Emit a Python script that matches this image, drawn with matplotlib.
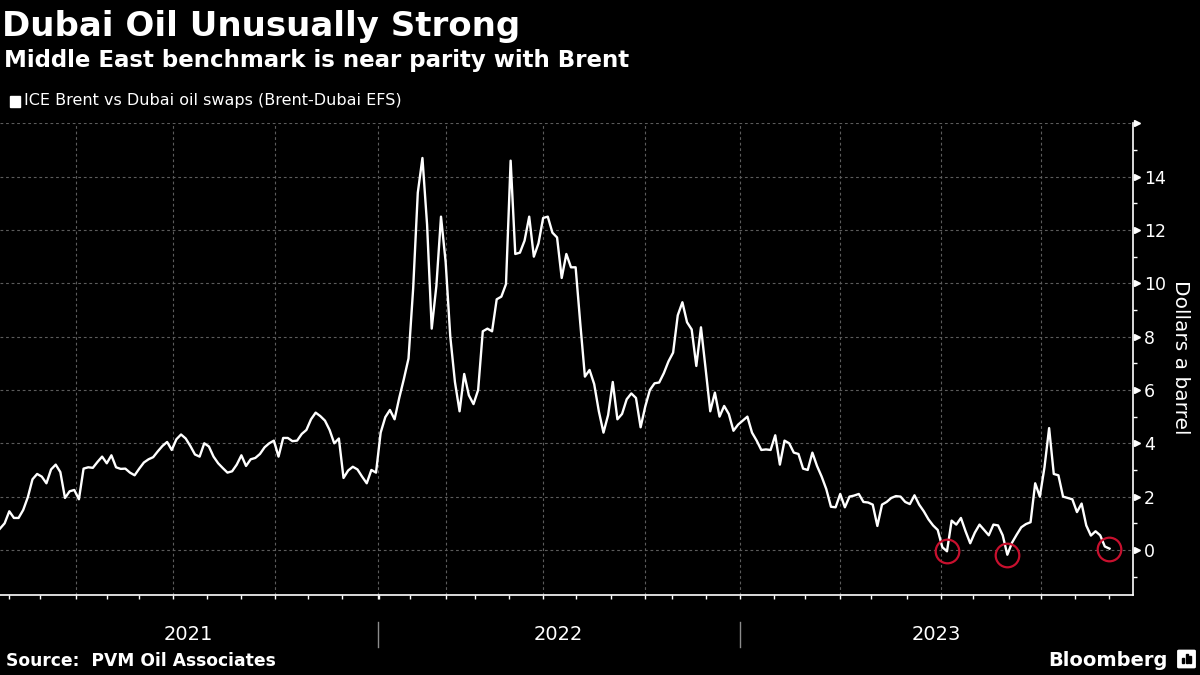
import numpy as np
import pandas as pd
import matplotlib

matplotlib.use("Agg")
import matplotlib.pyplot as plt
from matplotlib import transforms
from matplotlib.patches import Rectangle, FancyBboxPatch

TITLE = "Dubai Oil Unusually Strong"
SUBTITLE = "Middle East benchmark is near parity with Brent"
SERIES_NAME = "ICE Brent vs Dubai oil swaps (Brent-Dubai EFS)"
SOURCE = "Source:  PVM Oil Associates"
Y_LABEL = "Dollars a barrel"

# trading sessions on the axis, with the stretches that have no quotes
FIRST_DAY = "2021-01-22"
LAST_DAY = "2023-12-22"
MISSING = [
    ("2021-04-02", "2021-04-05"),
    ("2022-01-03", "2022-01-28"),
    ("2022-04-15", "2022-04-18"),
    ("2022-10-10", "2022-10-13"),
]
EVERY = 3  # one reading every third session

# Brent-Dubai EFS, $/bbl
efs = [
    0.8, 1.0, 1.45, 1.2, 1.2, 1.5, 1.98, 2.65, 2.85, 2.75,
    2.5, 3.02, 3.2, 2.92, 1.95, 2.2, 2.25, 1.9, 3.05, 3.1,
    3.08, 3.3, 3.5, 3.25, 3.55, 3.1, 3.04, 3.05, 2.9, 2.8,
    3.05, 3.28, 3.4, 3.48, 3.7, 3.9, 4.05, 3.75, 4.15, 4.33,
    4.18, 3.9, 3.58, 3.5, 4.0, 3.88, 3.5, 3.25, 3.07, 2.9,
    2.95, 3.2, 3.55, 3.15, 3.4, 3.45, 3.6, 3.85, 4.0, 4.1,
    3.5, 4.2, 4.2, 4.08, 4.1, 4.35, 4.5, 4.9, 5.15, 5.02,
    4.85, 4.5, 4.0, 4.18, 2.7, 2.98, 3.12, 3.02, 2.75, 2.5,
    3.0, 2.9, 4.4, 4.98, 5.25, 4.9, 5.7, 6.41, 7.18, 9.8,
    13.4, 14.7, 12.2, 8.3, 9.9, 12.5, 10.8, 8.0, 6.3, 5.2,
    6.6, 5.8, 5.47, 6.0, 8.2, 8.3, 8.2, 9.4, 9.5, 9.97,
    14.6, 11.1, 11.15, 11.6, 12.5, 11.0, 11.5, 12.45, 12.5, 11.9,
    11.72, 10.2, 11.1, 10.6, 10.6, 8.5, 6.5, 6.75, 6.22, 5.2,
    4.4, 5.06, 6.3, 4.9, 5.1, 5.65, 5.87, 5.7, 4.6, 5.38,
    6.0, 6.25, 6.28, 6.63, 7.07, 7.4, 8.8, 9.29, 8.54, 8.27,
    6.9, 8.35, 6.8, 5.2, 5.9, 5.0, 5.4, 5.1, 4.47, 4.7,
    4.85, 5.0, 4.4, 4.1, 3.75, 3.77, 3.75, 4.3, 3.2, 4.1,
    4.0, 3.65, 3.6, 3.05, 3.0, 3.65, 3.15, 2.75, 2.28, 1.62,
    1.6, 2.1, 1.6, 2.0, 2.04, 2.1, 1.8, 1.78, 1.7, 0.9,
    1.7, 1.8, 1.95, 2.02, 2.0, 1.8, 1.72, 2.05, 1.7, 1.45,
    1.15, 0.92, 0.75, 0.1, -0.05, 1.1, 0.95, 1.2, 0.7, 0.25,
    0.65, 0.95, 0.75, 0.55, 0.95, 0.92, 0.55, -0.18, 0.27, 0.57,
    0.85, 0.97, 1.04, 2.5, 2.0, 3.1, 4.57, 2.85, 2.8, 2.0,
    1.95, 1.9, 1.42, 1.74, 0.92, 0.54, 0.7, 0.55, 0.13, 0.05,
]

# windows in which the spread dipped to parity (circled)
DIP_WINDOWS = [
    ("2023-06-15", "2023-07-20"),
    ("2023-08-15", "2023-09-10"),
    ("2023-11-15", "2023-12-10"),
]
YEARS = [2021, 2022, 2023]
Y_TICKS = [0, 2, 4, 6, 8, 10, 12, 14, 16]

GRID = "#5c5c5c"
RED = "#c8102e"


def trading_days():
    """sessions shown on the x axis"""
    days = pd.bdate_range(FIRST_DAY, LAST_DAY)
    for start, end in MISSING:
        days = days[(days < start) | (days > end)]
    return days


def draw_axes(fig, days):
    """main panel with the line"""
    ax = fig.add_axes([0.0, 0.1185, 0.9439, 0.6988])
    ax.set_facecolor("black")

    x = np.arange(len(days))[::EVERY][: len(efs)]
    sample_days = days[::EVERY][: len(efs)]
    ax.plot(x, efs, color="white", lw=1.7, solid_joinstyle="round", zorder=3)

    vals = np.array(efs)
    for start, end in DIP_WINDOWS:
        idx = np.where((sample_days >= start) & (sample_days <= end))[0]
        k = idx[np.argmin(vals[idx])]
        ax.plot(x[k], vals[k], marker="o", ms=17, mfc="none", mec=RED,
                mew=1.6, zorder=4)

    ax.set_xlim(0, len(days) - 1)
    ax.set_ylim(-1.69, 16)

    months = pd.date_range("2021-02-01", "2023-12-01", freq="MS")
    ax.set_xticks(np.searchsorted(days, months))
    quarters = months[months.month.isin([1, 4, 7, 10])]
    for q in np.searchsorted(days, quarters):
        ax.axvline(q, color=GRID, lw=0.8, ls=(0, (2.5, 2.5)), zorder=1)

    ax.set_yticks(Y_TICKS)
    ax.set_yticklabels([str(v) if v < 16 else "" for v in Y_TICKS])
    ax.set_yticks(np.arange(-1, 16, 2), minor=True)
    ax.yaxis.grid(True, color=GRID, lw=0.8, ls=(0, (2.5, 2.5)), zorder=1)

    ax.tick_params(axis="x", length=3, width=1, color="white",
                   labelbottom=False)
    ax.tick_params(axis="y", which="major", length=0, pad=8,
                   labelsize=12.5, labelcolor="white",
                   left=False, right=True, labelleft=False, labelright=True)
    ax.tick_params(axis="y", which="minor", length=3, width=1,
                   color="white", left=False, right=True)
    ax.plot([1.0035] * len(Y_TICKS), Y_TICKS, ls="none", marker=">", ms=5,
            color="white", transform=ax.get_yaxis_transform(), clip_on=False)

    for side in ["top", "left"]:
        ax.spines[side].set_visible(False)
    for side in ["bottom", "right"]:
        ax.spines[side].set_color("white")
        ax.spines[side].set_linewidth(1.2)

    # year labels under the month ticks
    blend = transforms.blended_transform_factory(ax.transData, fig.transFigure)
    last = len(days) - 1
    for year in YEARS:
        a = np.searchsorted(days, pd.Timestamp(f"{year}-01-01"))
        b = min(np.searchsorted(days, pd.Timestamp(f"{year + 1}-01-01")), last)
        ax.text((a + b) / 2, 0.06, str(year), transform=blend, ha="center",
                va="center", fontsize=14, color="white")
        if a > 0:
            ax.plot([a, a], [0.0415, 0.0785], transform=blend, clip_on=False,
                    color="#8c8c8c", lw=1)
    return ax


def draw_texts(fig):
    """title, legend, source and branding"""
    fig.text(0.002, 0.9467, TITLE, fontsize=24.5, fontweight="bold",
             color="white", va="baseline")
    fig.text(0.003, 0.9012, SUBTITLE, fontsize=16.5, fontweight="bold",
             color="white", va="baseline")
    fig.patches.append(Rectangle((10 / 1200, 1 - 106.5 / 675), 10 / 1200,
                                 11 / 675, transform=fig.transFigure,
                                 color="white"))
    fig.text(24.5 / 1200, 1 - 101 / 675, SERIES_NAME, fontsize=11.5,
             color="white", va="center")
    fig.text(0.984, 0.4704, Y_LABEL, rotation=270, fontsize=14.5,
             color="white", ha="center", va="center")
    fig.text(0.005, 1 - 661 / 675, SOURCE, fontsize=12.3, fontweight="bold",
             color="white", va="center")
    fig.text(1168 / 1200, 1 - 661 / 675, "Bloomberg", fontsize=14,
             fontweight="bold", color="white", ha="right", va="center")
    fig.patches.append(FancyBboxPatch((1179 / 1200, 1 - 667 / 675),
                                      15 / 1200, 16 / 675,
                                      boxstyle="round,pad=0.001",
                                      transform=fig.transFigure,
                                      color="white"))
    for i, h in enumerate([5, 9, 7]):
        fig.patches.append(Rectangle(((1182 + 3.5 * i) / 1200,
                                      1 - 663 / 675), 2 / 1200, h / 675,
                                     transform=fig.transFigure,
                                     color="black"))


def main():
    """main function"""
    fig = plt.figure(figsize=(12, 6.75), dpi=100, facecolor="black")
    days = trading_days()
    draw_axes(fig, days)
    draw_texts(fig)
    fig.savefig("out.png", dpi=100, facecolor="black")


if __name__ == "__main__":
    main()
